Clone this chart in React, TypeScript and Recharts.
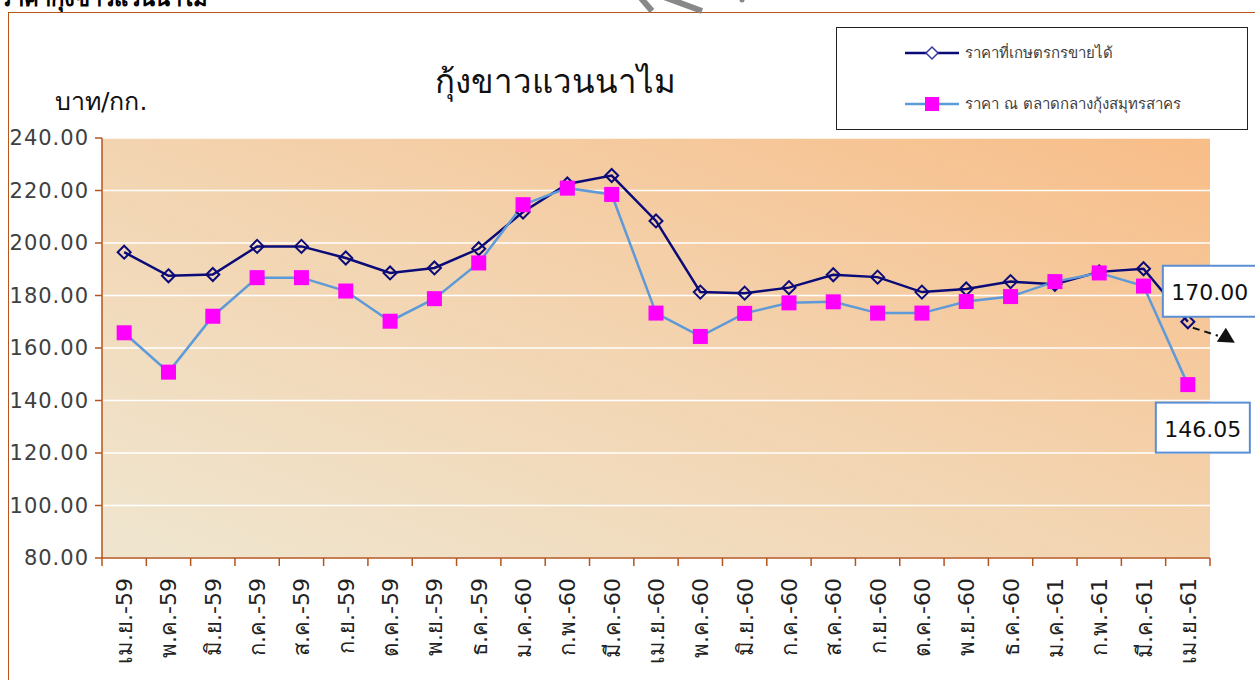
import React from "react";
import { LineChart, Line, XAxis, YAxis, CartesianGrid } from "recharts";

const categories = ["เม.ย.-59","พ.ค.-59","มิ.ย.-59","ก.ค.-59","ส.ค.-59","ก.ย.-59","ต.ค.-59","พ.ย.-59","ธ.ค.-59","ม.ค.-60","ก.พ.-60","มี.ค.-60","เม.ย.-60","พ.ค.-60","มิ.ย.-60","ก.ค.-60","ส.ค.-60","ก.ย.-60","ต.ค.-60","พ.ย.-60","ธ.ค.-60","ม.ค.-61","ก.พ.-61","มี.ค.-61","เม.ย.-61"];
const farmerPrice = [196.5, 187.5, 188.0, 198.7, 198.7, 194.3, 188.6, 190.5, 197.8, 211.8, 222.5, 225.7, 208.4, 181.3, 180.9, 183.0, 187.9, 187.0, 181.3, 182.5, 185.3, 184.3, 189.0, 190.2, 170.0];
const marketPrice = [165.8, 150.8, 172.1, 186.8, 186.8, 181.7, 170.2, 178.8, 192.4, 214.6, 220.9, 218.5, 173.3, 164.4, 173.2, 177.2, 177.6, 173.3, 173.3, 177.7, 179.6, 185.3, 188.6, 183.6, 146.05];
const yTicks = [80, 100, 120, 140, 160, 180, 200, 220, 240];
const seriesNames = ["ราคาที่เกษตรกรขายได้", "ราคา ณ ตลาดกลางกุ้งสมุทรสาคร"];
const title = "กุ้งขาวแวนนาไม";
const unit = "บาท/กก.";

const data = categories.map((c, i) => ({ month: c, farmer: farmerPrice[i], market: marketPrice[i] }));

const W = 1255, H = 680;
const PLOT_LEFT = 102, PLOT_RIGHT = 1210, PLOT_TOP = 138, PLOT_BOTTOM = 558;
const BAND = (PLOT_RIGHT - PLOT_LEFT) / categories.length;
const AXIS = "#b5541c";
const NAVY = "#0a0a78";
const BLUE = "#5f9ad8";
const MAGENTA = "#ff00ff";
const FONT = "Tahoma, 'DejaVu Sans', 'Noto Sans', sans-serif";

const Diamond = (props: any) => {
  const { cx, cy } = props;
  if (cx == null || cy == null) return <g />;
  const r = 6.5;
  return <polygon points={`${cx},${cy - r} ${cx + r},${cy} ${cx},${cy + r} ${cx - r},${cy}`} fill="none" stroke={NAVY} strokeWidth={2} />;
};
const Square = (props: any) => {
  const { cx, cy } = props;
  if (cx == null || cy == null) return <g />;
  const s = 7.5;
  return <rect x={cx - s} y={cy - s} width={2 * s} height={2 * s} fill={MAGENTA} />;
};

const XTick = (props: any) => {
  const { x, payload, index } = props;
  const half = BAND / 2;
  return (
    <g>
      <line x1={x - half} x2={x - half} y1={PLOT_BOTTOM} y2={PLOT_BOTTOM + 8} stroke={AXIS} strokeWidth={1.5} />
      {index === categories.length - 1 && (
        <line x1={x + half} x2={x + half} y1={PLOT_BOTTOM} y2={PLOT_BOTTOM + 8} stroke={AXIS} strokeWidth={1.5} />
      )}
      <text transform={`translate(${x + 8},${PLOT_BOTTOM + 20}) rotate(-90)`} textAnchor="end" fontSize={22} fontFamily={FONT} fill="#222">
        {payload.value}
      </text>
    </g>
  );
};

const farmerLabel = (p: any) => {
  if (p.index !== categories.length - 1) return <g />;
  const { x, y, value } = p;
  return (
    <g>
      <rect x={x - 25} y={y - 56} width={120} height={51} fill="#fff" stroke="#5b8fd3" strokeWidth={2} />
      <text x={x + 22} y={y - 22} textAnchor="middle" fontSize={22} fontFamily={FONT} fill="#111">{Number(value).toFixed(2)}</text>
      <line x1={x + 5} y1={y + 6} x2={x + 30} y2={y + 14} stroke="#111" strokeWidth={2} strokeDasharray="7 5" />
      <polygon points={`${x + 47},${y + 21} ${x + 29},${y + 20} ${x + 38},${y + 6}`} fill="#111" />
    </g>
  );
};
const marketLabel = (p: any) => {
  if (p.index !== categories.length - 1) return <g />;
  const { x, y, value } = p;
  return (
    <g>
      <rect x={x - 32} y={y + 18} width={94} height={50} fill="#fff" stroke="#5b8fd3" strokeWidth={2} />
      <text x={x + 15} y={y + 52} textAnchor="middle" fontSize={22} fontFamily={FONT} fill="#111">{Number(value).toFixed(2)}</text>
    </g>
  );
};

const LegendBox = () => (
  <div style={{ position: "absolute", left: 836, top: 27, width: 412, height: 103, border: "1.5px solid #222", background: "#fff", boxSizing: "border-box" }}>
    <svg width={410} height={101} style={{ position: "absolute", left: 0, top: 0 }}>
      <line x1={68} x2={122} y1={25} y2={25} stroke={NAVY} strokeWidth={2.5} />
      <polygon points="95,19 101,25 95,31 89,25" fill="#fff" stroke="#3a3aa0" strokeWidth={1.5} />
      <text x={128} y={30} fontSize={15} fill="#404040" fontFamily={FONT}>{seriesNames[0]}</text>
      <line x1={68} x2={122} y1={76} y2={76} stroke={BLUE} strokeWidth={2.5} />
      <rect x={88} y={69} width={14} height={14} fill={MAGENTA} />
      <text x={128} y={81} fontSize={15} fill="#404040" fontFamily={FONT}>{seriesNames[1]}</text>
    </svg>
  </div>
);

export default function App() {
  return (
    <div style={{ position: "absolute", left: 0, top: 0, width: W, height: H, background: "#fff", overflow: "hidden" }}>
      <div style={{ position: "absolute", left: 0, top: -19, fontFamily: FONT, fontWeight: "bold", fontSize: 22, whiteSpace: "nowrap" }}>ราคากุ้งขาวแวนนาไม</div>
      <div style={{ position: "absolute", left: 8, top: 12, width: W, height: H, borderLeft: `1.5px solid ${AXIS}`, borderTop: `1.5px solid ${AXIS}` }} />
      <svg width={W} height={20} style={{ position: "absolute", left: 0, top: 0 }}>
        <polyline points="640,-3 652,11" stroke="#888" strokeWidth={6} fill="none" />
        <polyline points="664,-3 702,11" stroke="#888" strokeWidth={6} fill="none" />
        <circle cx={742} cy={0} r={2.5} fill="#888" />
      </svg>
      <div style={{ position: "absolute", left: 0, top: 0 }}>
        <LineChart width={W} height={H} data={data} margin={{ top: PLOT_TOP, right: W - PLOT_RIGHT, bottom: 0, left: 0 }}>
          <defs>
            <linearGradient id="bg" x1="0" y1="1" x2="1" y2="0">
              <stop offset="0%" stopColor="#efe6d0" />
              <stop offset="50%" stopColor="#f3d4b0" />
              <stop offset="100%" stopColor="#f8bd88" />
            </linearGradient>
          </defs>
          <CartesianGrid vertical={false} stroke="#ffffff" strokeWidth={1.5} fill="url(#bg)" fillOpacity={1} />
          <XAxis dataKey="month" interval={0} height={H - PLOT_BOTTOM} padding={{ left: BAND / 2, right: BAND / 2 }}
            axisLine={{ stroke: AXIS, strokeWidth: 1.5 }} tickLine={false} tick={<XTick />} />
          <YAxis domain={[80, 240]} ticks={yTicks} width={PLOT_LEFT} interval={0}
            tickFormatter={(v: number) => v.toFixed(2)} axisLine={{ stroke: AXIS, strokeWidth: 1.5 }}
            tickLine={{ stroke: AXIS, strokeWidth: 1.5 }} tickSize={7} tickMargin={6}
            tick={{ fill: "#404040", fontSize: 21, fontFamily: FONT, letterSpacing: 1 }} />
          <Line type="linear" dataKey="farmer" name={seriesNames[0]} stroke={NAVY} strokeWidth={2.5} dot={<Diamond />} activeDot={false} isAnimationActive={false} label={farmerLabel} />
          <Line type="linear" dataKey="market" name={seriesNames[1]} stroke={BLUE} strokeWidth={2.5} dot={<Square />} activeDot={false} isAnimationActive={false} label={marketLabel} />
          <text x={555} y={93} textAnchor="middle" fontSize={33} fontFamily={FONT} fill="#111">{title}</text>
          <text x={55} y={110} fontSize={25} fontFamily={FONT} fill="#111">{unit}</text>
        </LineChart>
      </div>
      <LegendBox />
    </div>
  );
}
